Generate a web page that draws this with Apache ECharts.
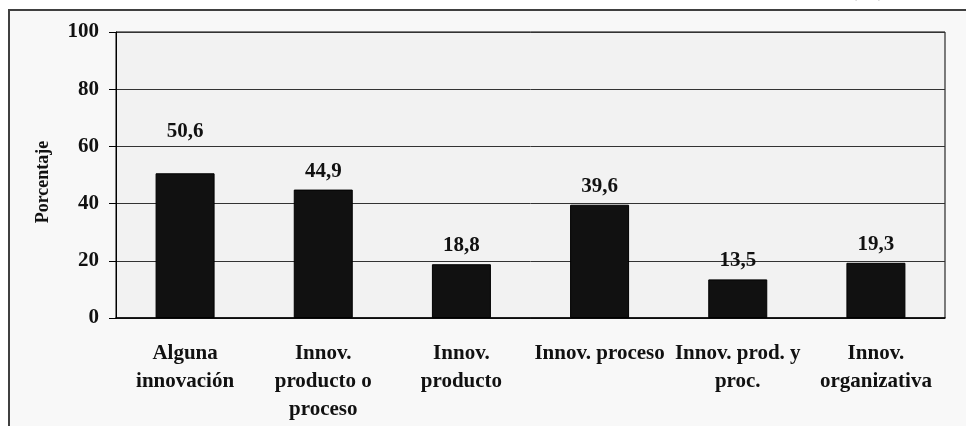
<!DOCTYPE html>
<html>
<head>
<meta charset="utf-8">
<script src="https://cdn.jsdelivr.net/npm/echarts@6/dist/echarts.min.js"></script>
<style>
  html, body { margin: 0; padding: 0; background: #fff; }
  #chart { width: 966px; height: 426px; }
</style>
</head>
<body>
<div id="chart"></div>
<script>
const categories = [
  "Alguna\ninnovación",
  "Innov.\nproducto o\nproceso",
  "Innov.\nproducto",
  "Innov. proceso",
  "Innov. prod. y\nproc.",
  "Innov.\norganizativa"
];
const values = [50.6, 44.9, 18.8, 39.6, 13.5, 19.3];
const yTicks = [0, 20, 40, 60, 80, 100];

const serif = '"Liberation Serif", "Times New Roman", serif';

// the first label sits higher in the original, clear of the 60 gridline
const barData = values.map((v, i) =>
  i === 0 ? { value: v, label: { distance: 31 } } : v
);

const chart = echarts.init(document.getElementById("chart"));

chart.setOption({
  animation: false,
  backgroundColor: "#ffffff",
  graphic: [
    {
      type: "rect",
      z: -10,
      shape: { x: 9, y: 10, width: 970, height: 430 },
      style: { fill: "#f8f8f8", stroke: "#404040", lineWidth: 2 }
    },
    {
      type: "text",
      left: 850,
      top: -20,
      style: { text: "(%)", font: "bold 21px " + serif, fill: "#111" }
    }
  ],
  grid: {
    left: 116,
    right: 21,
    top: 32,
    bottom: 108,
    show: true,
    backgroundColor: "#f2f2f2",
    borderColor: "#000",
    borderWidth: 1
  },
  xAxis: {
    type: "category",
    data: categories,
    axisLine: { lineStyle: { color: "#000", width: 1.5 } },
    axisTick: { length: 7, lineStyle: { color: "#000" } },
    axisLabel: {
      interval: 0,
      margin: 22,
      color: "#111",
      fontFamily: serif,
      fontWeight: "bold",
      fontSize: 21,
      lineHeight: 28
    }
  },
  yAxis: {
    type: "value",
    min: 0,
    max: 100,
    interval: 20,
    name: "Porcentaje",
    nameLocation: "middle",
    nameGap: 64,
    nameRotate: 90,
    nameTextStyle: {
      color: "#111",
      fontFamily: serif,
      fontWeight: "bold",
      fontSize: 18,
      padding: [0, 14, 0, 0]
    },
    axisLine: { show: true, lineStyle: { color: "#000" } },
    axisTick: { show: true, length: 7, lineStyle: { color: "#000" } },
    axisLabel: {
      margin: 17,
      color: "#111",
      fontFamily: serif,
      fontWeight: "bold",
      fontSize: 21,
      formatter: v => (yTicks.includes(v) ? String(v) : "")
    },
    splitLine: { lineStyle: { color: "#333", width: 1 } }
  },
  series: [
    {
      type: "bar",
      data: barData,
      barWidth: 59,
      itemStyle: { color: "#111", borderColor: "#000", borderWidth: 1 },
      label: {
        show: true,
        position: "top",
        distance: 8,
        color: "#111",
        fontFamily: serif,
        fontWeight: "bold",
        fontSize: 21,
        formatter: p => p.value.toFixed(1).replace(".", ",")
      }
    }
  ]
});
</script>
</body>
</html>
